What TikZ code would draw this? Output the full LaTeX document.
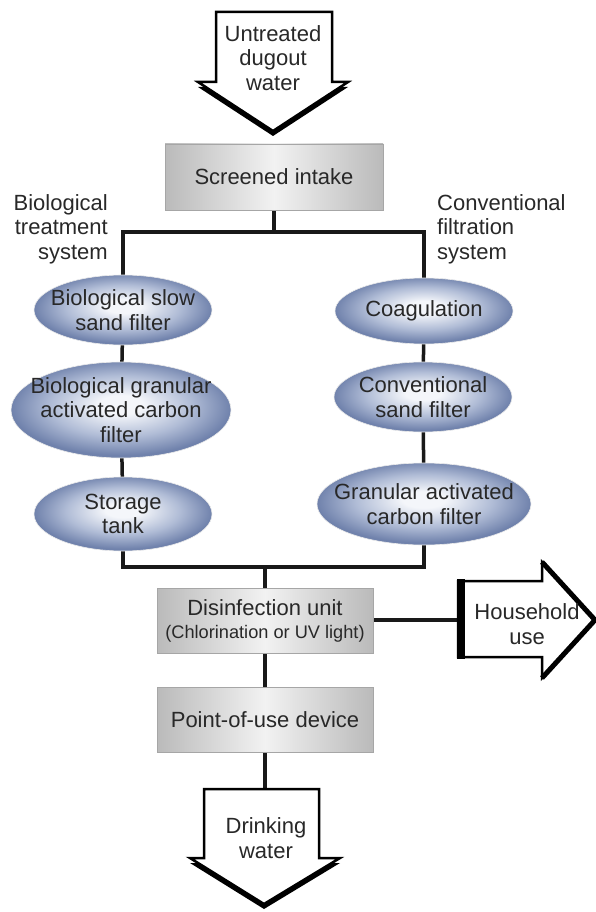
\documentclass[tikz,border=0pt]{standalone}
\usepackage{fontspec}
\setmainfont{Liberation Sans}
\usetikzlibrary{shapes.geometric,backgrounds}
\definecolor{ellout}{RGB}{112,130,172}
\definecolor{ellmid}{RGB}{176,188,214}
\definecolor{ellin}{RGB}{244,246,250}
\definecolor{txt}{RGB}{40,40,40}
\definecolor{boxin}{RGB}{242,242,242}
\definecolor{boxout}{RGB}{186,186,186}
\pgfdeclareradialshading{ellshade}{\pgfpoint{0bp}{3bp}}{color(0bp)=(ellin); color(5bp)=(ellin); color(16bp)=(ellmid); color(25bp)=(ellout); color(50bp)=(ellout)}
\pgfdeclarehorizontalshading{boxshade}{100bp}{color(0bp)=(boxout); color(25bp)=(boxout); color(50bp)=(boxin); color(75bp)=(boxout); color(100bp)=(boxout)}
\newcommand\fsz{\fontsize{22}{24.5}\selectfont}
\newcommand\fsm{\fontsize{18.2}{21}\selectfont}
\begin{document}
\begin{tikzpicture}[x=1pt,y=-1pt,
  txtn/.style={inner sep=0pt, align=center, font=\fsz, text=txt},
  ellshape/.style={shading=ellshade, draw=black!8, line width=0.6pt},
  gbox/.style={rectangle, shading=boxshade, draw=black!35, line width=0.6pt, inner sep=0pt, align=center, font=\fsz, text=txt, minimum width=216pt, minimum height=65pt},
  conn/.style={line width=3.5pt, black!90},
  arr/.style={fill=white, draw=black, line width=2.5pt, line join=miter},
  arrshadow/.style={fill=black},
  arredge/.style={line width=5pt, line cap=butt, line join=miter}]
\useasboundingbox (0,0) rectangle (596,912);

% top arrow
\fill[arrshadow, shift={(0,5)}] (216,12) -- (332,12) -- (332,82) -- (348,82) -- (273,131) -- (198,82) -- (216,82) -- cycle;
\draw[arr] (216,12) -- (332,12) -- (332,82) -- (348,82) -- (273,131) -- (198,82) -- (216,82) -- cycle;
\node[txtn] (ut) at (273,58) {Untreated\\dugout\\water};

% boxes
\node[gbox, minimum width=218pt, minimum height=66pt] (si) at (274,177) {Screened intake};
\node[gbox] (dis) at (265,621) {Disinfection unit\\[-1pt]{\fsm (Chlorination or UV light)}};
\node[gbox] (pou) at (265,720) {Point-of-use device};

% labels
\node[txtn, anchor=east, align=right] (bl) at (108,229) {Biological\\treatment\\system};
\node[txtn, anchor=west, align=left] (cl) at (437,229) {Conventional\\filtration\\system};

% ellipses
\path[ellshape] (123,310) ellipse [x radius=89, y radius=35];
\node[txtn] (l1) at (123,310) {Biological slow\\sand filter};
\path[ellshape] (121,410) ellipse [x radius=110, y radius=48];
\node[txtn] (l2) at (121,410) {Biological granular\\activated carbon\\filter};
\path[ellshape] (123,514) ellipse [x radius=89, y radius=37];
\node[txtn] (l3) at (123,514) {Storage\\tank};
\path[ellshape] (424,311) ellipse [x radius=89, y radius=33];
\node[txtn] (r1) at (424,311) {Coagulation};
\path[ellshape] (423,397) ellipse [x radius=89, y radius=35];
\node[txtn] (r2) at (423,397) {Conventional\\sand filter};
\path[ellshape] (424,504) ellipse [x radius=107, y radius=41];
\node[txtn] (r3) at (424,504) {Granular activated\\carbon filter};

% household arrow
\draw[arr] (458,581) -- (542,581) -- (542,562) -- (595,620) -- (542,678) -- (542,657) -- (458,657) -- cycle;
\draw[arredge] (542,562) -- (595,620) -- (542,678);
\draw[line width=8pt] (461,579) -- (461,659);
\node[txtn] (hu) at (527,624) {Household\\use};

% bottom arrow
\fill[arrshadow, shift={(0,5)}] (204,789) -- (319,789) -- (319,858) -- (340,858) -- (264,904) -- (190,858) -- (204,858) -- cycle;
\draw[arr] (204,789) -- (319,789) -- (319,858) -- (340,858) -- (264,904) -- (190,858) -- (204,858) -- cycle;
\node[txtn] (dw) at (266,838) {Drinking\\water};

% junctions
\coordinate (jtop) at (274,232);
\coordinate (jbot) at (265,567);
\coordinate (dwtop) at (265,789);
\coordinate (hhl) at (458,620);

\begin{scope}[on background layer]
\draw[conn] (si) -- (jtop);
\draw[conn] (l1) |- (jtop) -| (r1);
\draw[conn] (l1) -- (l2);
\draw[conn] (l2) -- (l3);
\draw[conn] (r1) -- (r2);
\draw[conn] (r2) -- (r3);
\draw[conn] (l3) |- (jbot) -| (r3);
\draw[conn] (jbot) -- (dis);
\draw[conn] (dis) -- (pou);
\draw[conn] (pou) -- (dwtop);
\draw[conn] (dis.east |- hhl) -- (hhl);
\end{scope}
\end{tikzpicture}
\end{document}
